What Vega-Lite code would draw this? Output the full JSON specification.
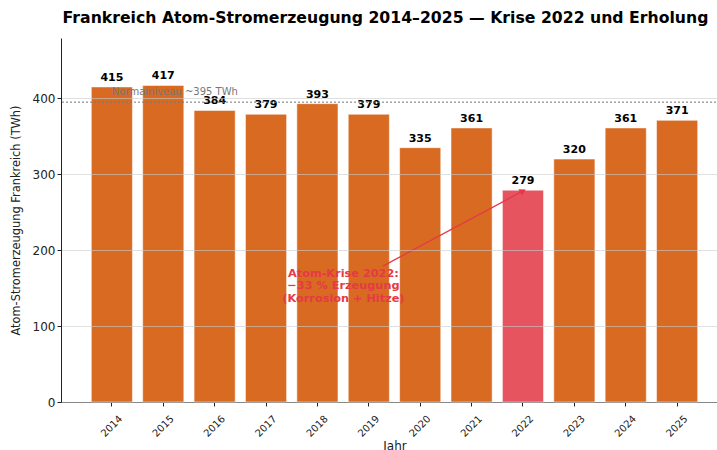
{
  "$schema": "https://vega.github.io/schema/vega-lite/v6.json",
  "width": 667,
  "height": 364,
  "autosize": {"type": "none"},
  "padding": {"left": 61, "top": 38, "right": 0, "bottom": 48},
  "title": {"text": "Frankreich Atom-Stromerzeugung 2014–2025 — Krise 2022 und Erholung", "fontSize": 15.7, "font": "DejaVu Sans", "fontWeight": "bold", "anchor": "middle", "offset": 11, "dx": -9, "color": "black"},
  "config": {"view": {"stroke": null}, "font": "DejaVu Sans"},
  "datasets": {
    "bars": [
      {"jahr": "2014", "twh": 415, "status": "normal"},
      {"jahr": "2015", "twh": 417, "status": "normal"},
      {"jahr": "2016", "twh": 384, "status": "normal"},
      {"jahr": "2017", "twh": 379, "status": "normal"},
      {"jahr": "2018", "twh": 393, "status": "normal"},
      {"jahr": "2019", "twh": 379, "status": "normal"},
      {"jahr": "2020", "twh": 335, "status": "normal"},
      {"jahr": "2021", "twh": 361, "status": "normal"},
      {"jahr": "2022", "twh": 279, "status": "krise"},
      {"jahr": "2023", "twh": 320, "status": "normal"},
      {"jahr": "2024", "twh": 361, "status": "normal"},
      {"jahr": "2025", "twh": 371, "status": "normal"}
    ],
    "normal": [{"jahr": "2014", "wert": 395, "label": "Normalniveau ~395 TWh"}],
    "ann": [{"jahr": "2018", "y": 169, "text": "Atom-Krise 2022:\n−33 % Erzeugung\n(Korrosion + Hitze)"}],
    "arrow": [{"von": "2019", "y1": 179, "bis": "2022", "y2": 278}]
  },
  "layer": [
    {
      "data": {"name": "bars"},
      "mark": {"type": "bar", "stroke": "white", "strokeWidth": 1, "strokeOpacity": 0.5},
      "encoding": {
        "x": {"field": "jahr", "type": "ordinal", "scale": {"paddingInner": 0.2, "paddingOuter": 0.59},
          "axis": {"title": "Jahr", "titleFontSize": 12, "titleFontWeight": "normal", "titleColor": "#222", "titleY": 43, "titleBaseline": "middle", "labelAngle": -45, "labelAlign": "center", "labelBaseline": "middle", "labelPadding": 20, "labelFontSize": 10, "labelColor": "#222", "tickSize": 4, "tickColor": "#222", "domainColor": "#222", "grid": false}},
        "y": {"field": "twh", "type": "quantitative", "scale": {"domain": [0, 479.5], "nice": false},
          "axis": {"title": "Atom-Stromerzeugung Frankreich (TWh)", "titleFontSize": 11.4, "titleFontWeight": "normal", "titleColor": "#222", "titlePadding": 11, "values": [0, 100, 200, 300, 400], "labelFontSize": 12, "labelColor": "#222", "tickSize": 4, "tickColor": "#222", "domainColor": "#222", "gridColor": "#cccccc", "gridOpacity": 0.6, "zindex": 1}},
        "color": {"field": "status", "type": "nominal", "scale": {"domain": ["normal", "krise"], "range": ["#d86a22", "#e5545f"]}, "legend": null}
      }
    },
    {
      "data": {"name": "bars"},
      "mark": {"type": "text", "baseline": "bottom", "dy": -4, "fontWeight": "bold", "fontSize": 11, "color": "black"},
      "encoding": {
        "x": {"field": "jahr", "type": "ordinal"},
        "y": {"field": "twh", "type": "quantitative"},
        "text": {"field": "twh", "type": "quantitative"}
      }
    },
    {
      "data": {"name": "normal"},
      "mark": {"type": "rule", "strokeDash": [2, 2], "color": "#777", "strokeWidth": 1},
      "encoding": {"y": {"field": "wert", "type": "quantitative"}}
    },
    {
      "data": {"name": "normal"},
      "mark": {"type": "text", "align": "left", "baseline": "bottom", "dy": -5, "fontSize": 10, "color": "#777"},
      "encoding": {
        "x": {"field": "jahr", "type": "ordinal"},
        "y": {"field": "wert", "type": "quantitative"},
        "text": {"field": "label"}
      }
    },
    {
      "data": {"name": "arrow"},
      "mark": {"type": "rule", "color": "#e63946", "strokeWidth": 1.3, "xOffset": 14},
      "encoding": {
        "x": {"field": "von", "type": "ordinal"},
        "x2": {"field": "bis"},
        "y": {"field": "y1", "type": "quantitative"},
        "y2": {"field": "y2"}
      }
    },
    {
      "data": {"name": "arrow"},
      "mark": {"type": "point", "shape": "triangle-up", "filled": true, "color": "#e63946", "opacity": 1, "size": 55, "angle": 61},
      "encoding": {
        "x": {"field": "bis", "type": "ordinal"},
        "y": {"field": "y2", "type": "quantitative"}
      }
    },
    {
      "data": {"name": "ann"},
      "mark": {"type": "text", "lineBreak": "\n", "align": "center", "baseline": "middle", "dx": 26, "fontSize": 11.3, "fontWeight": "bold", "color": "#e63946", "lineHeight": 12.7},
      "encoding": {
        "x": {"field": "jahr", "type": "ordinal"},
        "y": {"field": "y", "type": "quantitative"},
        "text": {"field": "text"}
      }
    }
  ]
}
